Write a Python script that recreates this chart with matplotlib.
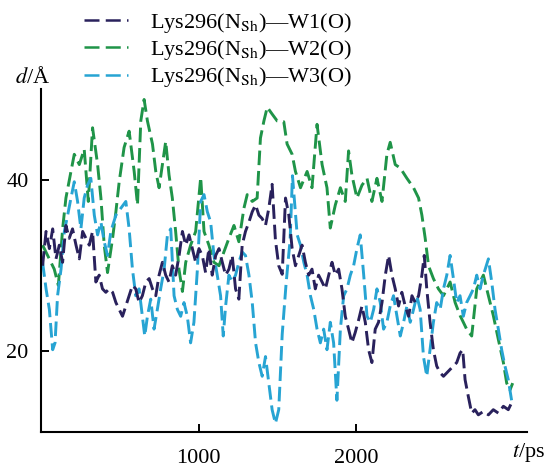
import matplotlib.pyplot as plt

plt.rcParams['font.family'] = ['Liberation Serif', 'DejaVu Serif']
plt.rcParams['mathtext.fontset'] = 'stix'

# Lys296(N_Sh)-W1(O)
t_w1 = [10, 32, 53, 74, 95, 116, 137, 158, 179, 200, 222, 243, 264, 285, 306, 327,
        348, 369, 390, 411, 432, 454, 475, 496, 517, 538, 559, 580, 601, 622, 643,
        665, 686, 707, 728, 749, 770, 791, 812, 833, 854, 876, 897, 918, 939, 960,
        981, 1002, 1023, 1044, 1065, 1086, 1108, 1129, 1150, 1171, 1192, 1213, 1234,
        1255, 1276, 1297, 1319, 1340, 1361, 1382, 1403, 1424, 1445, 1466, 1487, 1508,
        1530, 1551, 1572, 1593, 1614, 1635, 1656, 1677, 1698, 1719, 1740, 1761, 1783,
        1804, 1825, 1846, 1867, 1888, 1909, 1930, 1951, 1972, 1993, 2015, 2036, 2057,
        2078, 2099, 2120, 2141, 2163, 2184, 2205, 2226, 2247, 2268, 2289, 2310, 2332,
        2353, 2374, 2395, 2416, 2431, 2447, 2468, 2489, 2510, 2532, 2553, 2574, 2595,
        2616, 2637, 2658, 2675, 2690, 2711, 2732, 2753, 2774, 2806, 2838, 2869, 2901,
        2933, 2964, 2985]
d_w1 = [30.0, 34.0, 32.0, 34.3, 30.8, 32.4, 30.4, 34.7, 33.2, 34.3, 32.4, 30.8, 34.0,
        33.2, 32.4, 34.0, 28.1, 28.9, 27.3, 26.9, 27.3, 26.9, 25.7, 24.9, 24.1, 25.3,
        26.5, 27.7, 27.3, 25.7, 26.5, 28.1, 28.5, 27.3, 26.5, 28.9, 30.4, 28.9, 28.1,
        30.0, 28.9, 31.2, 34.0, 32.4, 33.6, 32.0, 30.4, 32.0, 31.2, 29.2, 32.0, 28.9,
        31.2, 32.0, 30.4, 28.9, 29.6, 31.2, 27.3, 26.1, 32.4, 34.0, 35.1, 36.3, 37.1,
        35.9, 35.5, 34.7, 36.7, 39.5, 33.0, 30.0, 29.0, 37.9, 35.9, 32.0, 30.0, 31.2,
        32.4, 30.4, 28.9, 29.6, 27.3, 28.9, 28.1, 27.3, 28.9, 30.4, 28.9, 29.6, 27.3,
        24.1, 22.6, 21.0, 22.2, 23.7, 25.3, 23.4, 20.2, 18.7, 22.6, 23.4, 25.7, 28.9,
        31.2, 28.9, 27.3, 25.3, 26.9, 25.3, 24.1, 26.5, 25.7, 26.5, 28.9, 31.2, 27.3,
        23.4, 20.2, 18.3, 17.5, 17.1, 17.5, 17.9, 18.3, 18.7, 19.8, 20.2, 16.7, 14.7,
        12.8, 13.2, 12.6, 13.0, 12.6, 13.2, 12.8, 13.6, 13.2, 14.0]

# Lys296(N_Sh)-W2(O)
t_w2 = [10, 42, 84, 110, 137, 158, 190, 211, 243, 274, 300, 327, 359, 380, 401, 422,
        454, 475, 496, 527, 559, 591, 612, 633, 654, 675, 707, 728, 749, 770, 791, 812,
        833, 854, 875, 897, 918, 949, 981, 1013, 1034, 1065, 1097, 1129, 1160, 1192,
        1224, 1255, 1287, 1308, 1340, 1371, 1392, 1414, 1435, 1466, 1498, 1540, 1561,
        1593, 1614, 1646, 1688, 1719, 1751, 1783, 1814, 1835, 1867, 1899, 1930, 1951,
        1972, 2004, 2036, 2068, 2099, 2131, 2163, 2194, 2215, 2247, 2279, 2321, 2363,
        2395, 2416, 2437, 2458, 2489, 2521, 2553, 2595, 2627, 2658, 2700, 2732, 2764,
        2806, 2838, 2869, 2901, 2933, 2954, 2975, 2992]
d_w2 = [32.4, 31.2, 29.6, 27.7, 34.3, 37.9, 41.0, 43.0, 41.8, 43.6, 37.5, 46.1, 41.8,
        37.9, 32.4, 29.2, 33.2, 36.3, 39.8, 43.8, 45.7, 41.0, 37.1, 46.9, 49.4, 46.9,
        44.2, 41.0, 39.1, 41.8, 44.5, 40.6, 37.9, 34.0, 29.6, 27.0, 30.4, 32.4, 34.0,
        40.3, 34.0, 32.4, 30.4, 30.0, 31.6, 33.2, 34.7, 32.8, 36.7, 38.3, 37.5, 37.9,
        44.9, 46.9, 48.5, 47.7, 46.9, 46.8, 44.2, 43.0, 41.0, 39.1, 41.0, 39.1, 46.5,
        41.8, 39.1, 34.4, 37.1, 39.1, 37.5, 43.4, 40.6, 37.9, 39.4, 40.2, 37.5, 40.2,
        37.5, 43.0, 44.4, 41.8, 41.4, 40.2, 39.1, 37.9, 35.9, 33.2, 30.0, 28.5, 27.3,
        26.5, 28.1, 25.7, 24.2, 22.6, 21.8, 27.3, 28.9, 26.5, 24.2, 21.4, 18.7, 16.3,
        15.5, 16.3]

# Lys296(N_Sh)-W3(O)
t_w3 = [10, 32, 53, 74, 89, 105, 127, 148, 169, 190, 211, 232, 253, 274, 295, 316,
        338, 359, 380, 401, 422, 443, 475, 506, 538, 559, 580, 601, 622, 643, 658,
        675, 696, 717, 738, 759, 781, 802, 823, 844, 865, 886, 907, 928, 949, 970,
        992, 1013, 1034, 1055, 1076, 1097, 1118, 1139, 1156, 1171, 1192, 1213, 1234,
        1255, 1276, 1297, 1319, 1340, 1361, 1382, 1403, 1424, 1445, 1466, 1487, 1508,
        1530, 1555, 1580, 1595, 1625, 1646, 1667, 1688, 1709, 1730, 1751, 1772, 1793,
        1814, 1835, 1856, 1877, 1899, 1920, 1941, 1962, 1983, 2004, 2025, 2047, 2068,
        2089, 2110, 2131, 2152, 2173, 2194, 2215, 2236, 2258, 2279, 2300, 2321, 2342,
        2363, 2384, 2405, 2426, 2447, 2468, 2489, 2510, 2532, 2553, 2574, 2595, 2616,
        2637, 2658, 2679, 2700, 2722, 2743, 2764, 2785, 2806, 2838, 2859, 2880, 2901,
        2922, 2943, 2964, 2985]
d_w3 = [30.4, 27.3, 24.9, 20.2, 21.0, 26.5, 29.6, 34.0, 35.9, 37.9, 39.8, 37.5, 34.3,
        37.9, 39.4, 40.2, 35.9, 33.6, 35.1, 32.8, 31.2, 34.0, 35.9, 36.7, 37.5, 34.3,
        29.6, 26.5, 27.3, 24.1, 21.8, 24.1, 26.1, 22.6, 24.9, 27.3, 29.6, 33.6, 34.3,
        26.5, 24.9, 24.1, 25.7, 24.1, 21.0, 23.4, 29.6, 37.5, 38.3, 36.3, 35.1, 31.2,
        28.9, 26.5, 21.8, 25.3, 28.9, 28.1, 28.9, 30.4, 31.6, 31.2, 28.9, 25.7, 21.0,
        18.7, 17.1, 19.4, 16.3, 13.2, 11.6, 13.2, 22.0, 28.0, 33.0, 40.5, 33.6, 32.4,
        30.4, 28.9, 26.5, 24.9, 22.6, 21.0, 22.6, 20.2, 23.4, 21.0, 14.3, 22.6, 26.5,
        27.3, 28.9, 30.0, 32.0, 33.6, 28.9, 24.1, 23.4, 24.9, 27.3, 25.7, 22.6, 23.4,
        25.3, 26.5, 24.1, 21.8, 23.4, 25.3, 23.4, 24.9, 26.5, 24.9, 19.4, 17.1, 20.2,
        23.4, 25.7, 24.9, 27.3, 28.9, 31.2, 28.5, 25.7, 26.5, 24.1, 25.7, 26.5, 27.3,
        28.9, 27.3, 28.9, 30.8, 28.1, 24.9, 22.6, 20.2, 18.3, 16.7, 14.3]

labels = [r'Lys296(N$_{\mathrm{Sh}}$)—W1(O)',
          r'Lys296(N$_{\mathrm{Sh}}$)—W2(O)',
          r'Lys296(N$_{\mathrm{Sh}}$)—W3(O)']
colors = ['#29215c', '#1f9448', '#27a4d3']

fig = plt.figure(figsize=(5.49, 4.67), dpi=100)
ax = fig.add_axes([0.0747, 0.075, 0.885, 0.734])

dash = (5, 2)
l2, = ax.plot(t_w2, d_w2, color=colors[1], lw=2.1, dashes=dash, label=labels[1])
l3, = ax.plot(t_w3, d_w3, color=colors[2], lw=2.1, dashes=dash, label=labels[2])
l1, = ax.plot(t_w1, d_w1, color=colors[0], lw=2.1, dashes=dash, label=labels[0])

ax.set_xlim(0, 3082)
ax.set_ylim(10.6, 50.6)
ax.set_xticks([1000, 2000])
ax.set_yticks([20, 40])
ax.tick_params(direction='in', length=6, width=1.4, labelsize=16)
ax.tick_params(axis='x', pad=12)
ax.tick_params(axis='y', pad=9)
ax.spines['top'].set_visible(False)
ax.spines['right'].set_visible(False)
ax.spines['left'].set_linewidth(1.5)
ax.spines['bottom'].set_linewidth(1.5)

leg = fig.legend(handles=[l1, l2, l3], loc='upper left', bbox_to_anchor=(0.136, 0.996),
                 frameon=False, fontsize=16, handlelength=2.0, handletextpad=1.0,
                 labelspacing=0.15, borderaxespad=0)
for h in leg.legend_handles:
    h.set_linewidth(1.8)
    h.set_dashes((6, 2.5))

fig.text(0.028, 0.835, r'$d$/Å', fontsize=16, va='center', ha='left')
fig.text(0.932, 0.032, r'$t$/ps', fontsize=16, va='center', ha='left')

fig.savefig('out.png', dpi=100)
